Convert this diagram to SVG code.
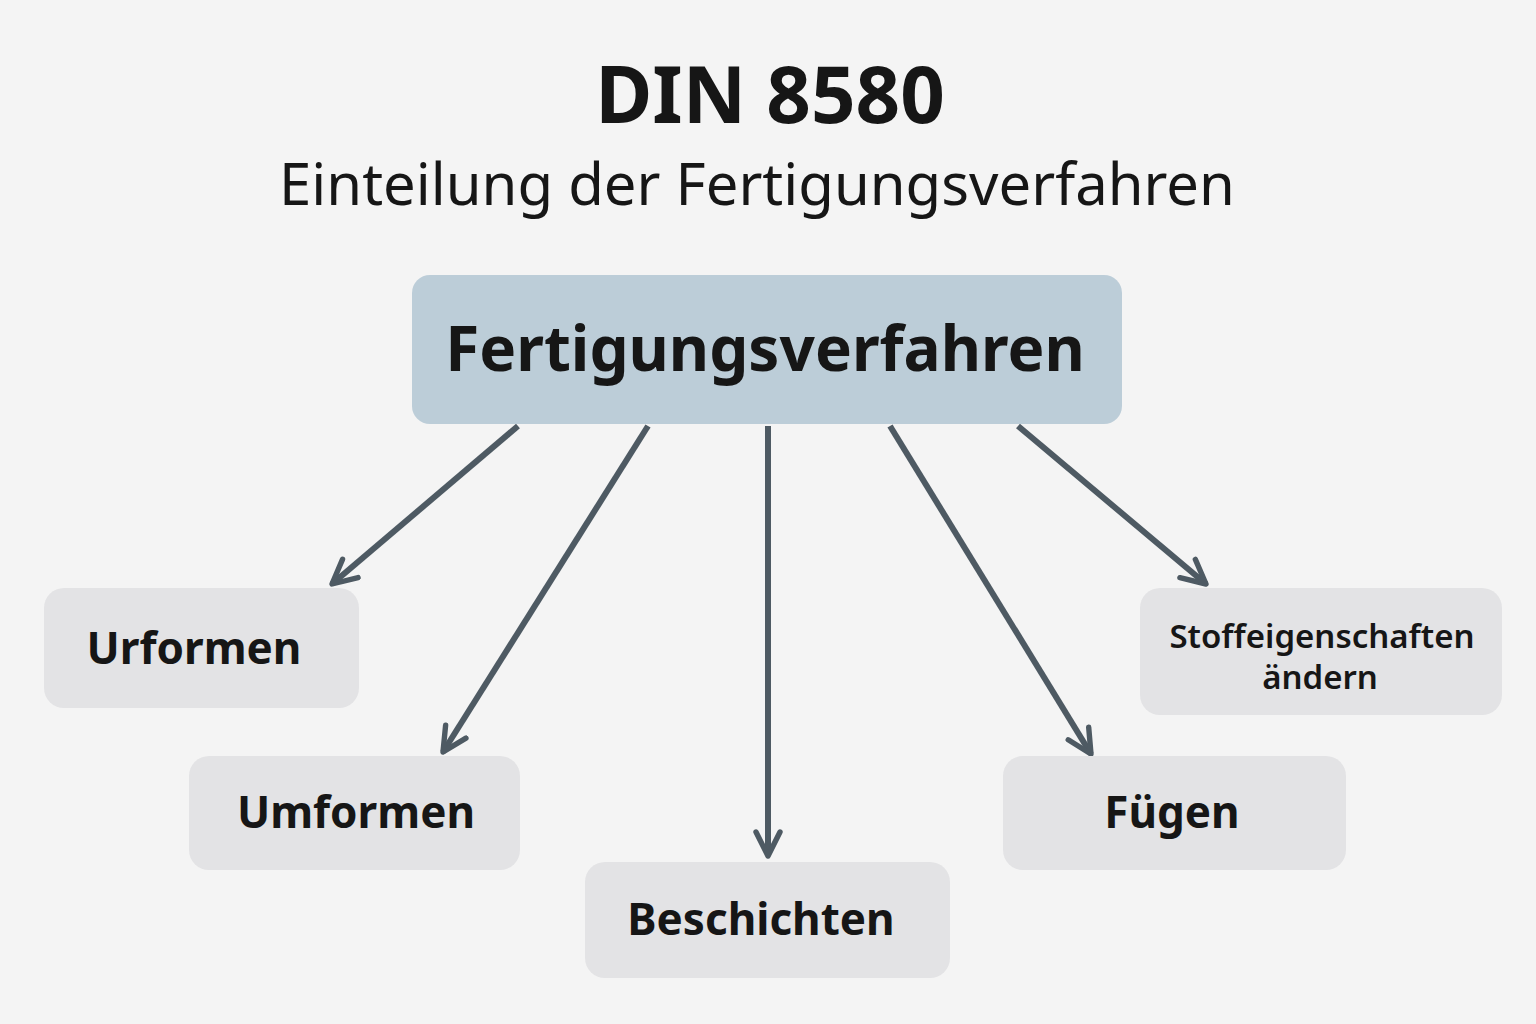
<svg xmlns="http://www.w3.org/2000/svg" width="1536" height="1024" viewBox="0 0 1536 1024">
<style>
.t{font-family:"Noto Sans","Open Sans",sans-serif;fill:#161616;text-anchor:middle}
.b{font-weight:bold}
.box{fill:#e3e3e5}
.c{stroke:#4e5a63;stroke-width:6;fill:none;marker-end:url(#ah)}
</style>
<defs>
<marker id="ah" viewBox="0 0 10 10" refX="9" refY="5" markerWidth="5" markerHeight="5" orient="auto" markerUnits="strokeWidth">
<polyline points="1,1 9,5 1,9" fill="none" stroke="#4e5a63" stroke-width="1.8" stroke-linecap="round" stroke-linejoin="round"/>
</marker>
</defs>
<rect width="1536" height="1024" fill="#f4f4f4"/>
<text class="t b" x="770" y="123" font-size="78">DIN 8580</text>
<text class="t" x="757" y="205" font-size="58">Einteilung der Fertigungsverfahren</text>
<g id="connectors">
<line class="c" x1="518" y1="426" x2="332" y2="584"/>
<line class="c" x1="648" y1="426" x2="443" y2="752"/>
<line class="c" x1="768" y1="426" x2="768" y2="856"/>
<line class="c" x1="890" y1="426" x2="1091" y2="754"/>
<line class="c" x1="1018" y1="426" x2="1206" y2="584"/>
</g>
<g id="root"><rect x="412" y="275" width="710" height="149" rx="18" fill="#bccdd8"/>
<text class="t b" x="765" y="371" font-size="62">Fertigungsverfahren</text></g>
<g id="urformen"><rect class="box" x="44" y="588" width="315" height="120" rx="20"/>
<text class="t b" x="194" y="664" font-size="44">Urformen</text></g>
<g id="umformen"><rect class="box" x="189" y="756" width="331" height="114" rx="20"/>
<text class="t b" x="356" y="828" font-size="44">Umformen</text></g>
<g id="beschichten"><rect class="box" x="585" y="862" width="365" height="116" rx="20"/>
<text class="t b" x="761" y="935" font-size="44">Beschichten</text></g>
<g id="fuegen"><rect class="box" x="1003" y="756" width="343" height="114" rx="20"/>
<text class="t b" x="1172" y="828" font-size="44">Fügen</text></g>
<g id="stoff"><rect class="box" x="1140" y="588" width="362" height="127" rx="20"/>
<text class="t" x="1322" y="648" font-size="33" font-weight="600">Stoffeigenschaften</text>
<text class="t" x="1320" y="689" font-size="33" font-weight="600">ändern</text></g>
</svg>
